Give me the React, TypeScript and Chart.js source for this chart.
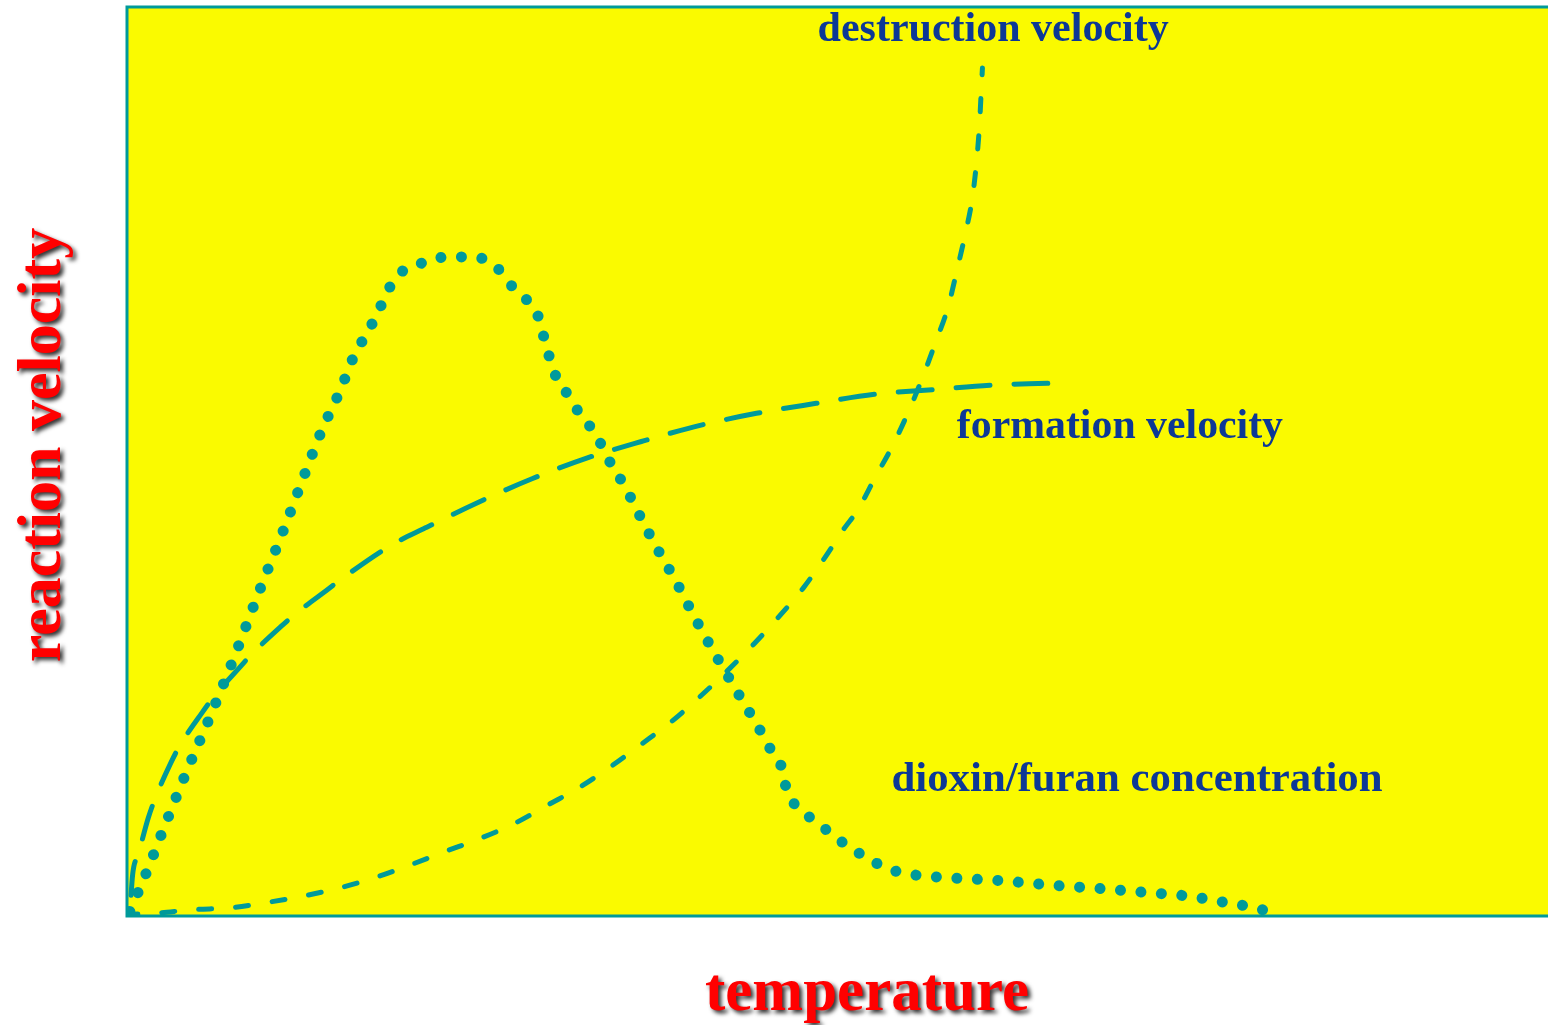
import { useEffect, useRef } from "react";
import { Chart, registerables } from "chart.js";

Chart.register(...registerables);

// Temperature axis runs 0..100 (arbitrary units), reaction velocity 0..100.
const dioxinX = [
  0.2, 1.4, 2.5, 4.2, 6.0, 7.7, 9.3, 11.0, 12.6, 13.7, 15.0, 16.0, 17.0, 17.8,
  18.5, 19.2, 20.4, 21.8, 23.3, 24.8, 26.0, 26.9, 28.0, 28.9, 29.4, 29.8, 30.2,
  31.0, 31.8, 32.7, 33.5, 34.2, 35.0, 35.7, 36.4, 37.1, 37.8, 38.6, 40.0, 41.5,
  43.0, 44.6, 45.3, 46.1, 46.4, 47.2, 48.4, 49.6, 50.8, 52.1, 53.4, 55.1, 57.9,
  61.4, 65.0, 68.6, 71.6, 74.6, 77.6, 79.1, 80.6,
];
const dioxinY = [
  0.5, 4.9, 9.3, 15.9, 22.5, 29.1, 35.7, 42.4, 49.0, 53.4, 57.8, 61.7, 64.4, 66.9,
  69.2, 70.7, 71.6, 72.4, 72.5, 72.4, 71.4, 69.6, 68.0, 66.1, 63.3, 61.1, 59.3,
  57.4, 55.4, 53.6, 51.5, 49.3, 47.4, 45.2, 43.1, 41.0, 39.1, 36.9, 32.7, 28.5,
  24.5, 20.3, 18.3, 16.2, 14.0, 11.9, 10.5, 9.0, 7.6, 6.4, 5.3, 4.6, 4.2,
  3.9, 3.4, 3.0, 2.6, 2.2, 1.4, 1.0, 0.4,
];

const formationX = [
  0.2, 0.4, 0.8, 1.5, 2.0, 3.1, 3.7, 5.3, 6.1, 7.9, 8.9, 10.8, 11.9, 14.1, 15.2,
  18.6, 21.0, 24.7, 28.5, 32.4, 36.2, 40.4, 44.3, 48.5, 52.6, 56.7, 60.8, 64.8,
];
const formationY = [
  0.3, 4.6, 6.8, 10.8, 13.0, 16.9, 18.7, 22.4, 24.1, 27.3, 29.0, 31.8, 33.3, 35.9,
  37.2, 40.8, 42.7, 45.5, 48.1, 50.4, 52.2, 54.0, 55.3, 56.4, 57.4, 57.9, 58.4, 58.6,
];

const destructionX = [
  0.2, 2.0, 4.6, 7.3, 9.9, 12.4, 15.0, 17.6, 19.9, 22.4, 24.8, 27.3, 29.6, 31.9,
  34.1, 36.2, 38.4, 40.3, 42.2, 44.1, 45.8, 47.6, 49.1, 50.5, 51.4, 52.6, 53.9,
  55.0, 56.0, 56.9, 57.8, 58.4, 59.0, 59.5, 59.8, 60.0, 60.1, 60.2,
];
const destructionY = [
  0.2, 0.3, 0.7, 0.9, 1.5, 2.2, 3.1, 4.3, 5.6, 7.1, 8.5, 10.2, 12.2, 14.2,
  16.5, 18.9, 21.5, 24.1, 26.9, 29.9, 32.8, 36.1, 39.4, 42.7, 44.6, 48.1, 51.8,
  55.5, 59.3, 63.1, 67.1, 71.0, 75.1, 79.1, 83.2, 87.2, 90.3, 93.3,
];

const seriesNames = [
  "dioxin/furan concentration",
  "formation velocity",
  "destruction velocity",
];
const xTitle = "temperature";
const yTitle = "reaction velocity";

const TEAL = "#009a9a";
const PLOT_BG = "#fafa00";
const LABEL_BLUE = "#0c3896";
const TITLE_RED = "#ff0000";
const SERIF = '"Liberation Serif", "Times New Roman", serif';

// Curve captions, anchored in data coordinates (left edge, baseline).
const captions = [
  { text: seriesNames[2], x: 48.6, y: 96.3, size: 42 },
  { text: seriesNames[1], x: 58.4, y: 52.6, size: 41.8 },
  { text: seriesNames[0], x: 53.8, y: 13.8, size: 42.8 },
];

const toPoints = (xs: number[], ys: number[]) =>
  xs.map((x, i) => ({ x, y: ys[i] }));

const decorPlugin = {
  id: "decor",
  beforeDatasetsDraw(chart: any) {
    const { ctx, chartArea: a } = chart;
    ctx.save();
    ctx.fillStyle = PLOT_BG;
    ctx.fillRect(a.left, a.top, a.right - a.left, a.bottom - a.top);
    ctx.strokeStyle = TEAL;
    ctx.lineWidth = 3;
    ctx.beginPath();
    ctx.moveTo(a.right + 2, a.top);
    ctx.lineTo(a.left, a.top);
    ctx.lineTo(a.left, a.bottom);
    ctx.lineTo(a.right + 2, a.bottom);
    ctx.stroke();
    ctx.restore();
  },
  afterDatasetsDraw(chart: any) {
    const { ctx, chartArea: a, scales } = chart;
    ctx.save();
    ctx.fillStyle = LABEL_BLUE;
    ctx.textAlign = "left";
    ctx.textBaseline = "alphabetic";
    captions.forEach((c) => {
      ctx.font = `bold ${c.size}px ${SERIF}`;
      ctx.fillText(
        c.text,
        scales.x.getPixelForValue(c.x),
        scales.y.getPixelForValue(c.y)
      );
    });

    // Axis titles with a soft drop shadow
    ctx.fillStyle = TITLE_RED;
    ctx.shadowColor = "rgba(0,0,0,0.8)";
    ctx.shadowOffsetX = 3;
    ctx.shadowOffsetY = 3;
    ctx.shadowBlur = 4;
    ctx.font = `bold 61px ${SERIF}`;
    ctx.textAlign = "center";
    ctx.fillText(xTitle, 867, a.bottom + 94);

    ctx.font = `bold 62px ${SERIF}`;
    ctx.translate(60, 445);
    ctx.rotate(-Math.PI / 2);
    ctx.fillText(yTitle, 0, 0);
    ctx.restore();
  },
};

export default function App() {
  const canvasRef = useRef<HTMLCanvasElement | null>(null);

  useEffect(() => {
    if (!canvasRef.current) return;
    const lineBase = {
      borderColor: TEAL,
      pointRadius: 0,
      pointHoverRadius: 0,
      fill: false,
      cubicInterpolationMode: "monotone" as const,
      borderCapStyle: "round" as const,
      borderJoinStyle: "round" as const,
    };
    const chart = new Chart(canvasRef.current, {
      type: "line",
      data: {
        datasets: [
          {
            ...lineBase,
            label: seriesNames[0],
            data: toPoints(dioxinX, dioxinY),
            borderWidth: 11,
            borderDash: [0.01, 20.5],
          },
          {
            ...lineBase,
            label: seriesNames[1],
            data: toPoints(formationX, formationY),
            borderWidth: 5,
            borderDash: [34, 24],
            borderDashOffset: 40,
          },
          {
            ...lineBase,
            label: seriesNames[2],
            data: toPoints(destructionX, destructionY),
            borderWidth: 5,
            borderDash: [13, 24],
            borderDashOffset: 5,
          },
        ],
      },
      options: {
        animation: false,
        responsive: false,
        devicePixelRatio: 1,
        layout: { padding: { left: 127, top: 7, right: 0, bottom: 109 } },
        scales: {
          x: { type: "linear", min: 0, max: 100, display: false },
          y: { type: "linear", min: 0, max: 100, display: false },
        },
        plugins: {
          legend: { display: false },
          tooltip: { enabled: false },
        },
      },
      plugins: [decorPlugin],
    });
    return () => chart.destroy();
  }, []);

  return (
    <div
      style={{
        position: "absolute",
        left: 0,
        top: 0,
        width: 1548,
        height: 1025,
        background: "#ffffff",
      }}
    >
      <canvas ref={canvasRef} width={1548} height={1025} />
    </div>
  );
}
